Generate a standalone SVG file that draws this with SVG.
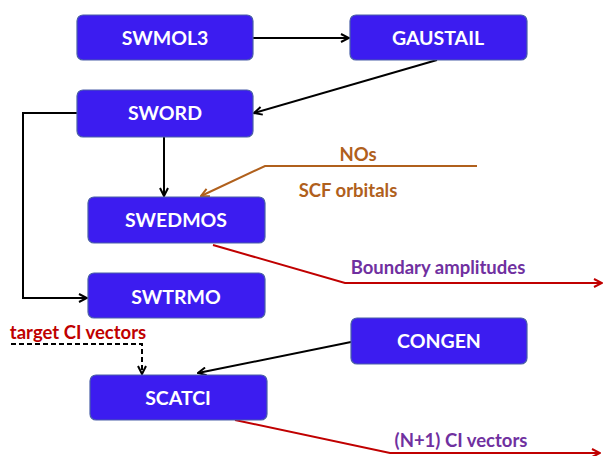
<svg xmlns="http://www.w3.org/2000/svg" width="603" height="456" viewBox="0 0 603 456">
<style>
.box{fill:#3c1cf0;stroke:#4a5fa8;stroke-width:1.2}
.nt{font-family:Lato,"Open Sans",sans-serif;font-weight:bold;font-size:19.5px;fill:#ffffff;text-anchor:middle}
.lb{font-family:Lato,"Open Sans",sans-serif;font-weight:bold;font-size:18.5px}
.k{fill:none;stroke:#000;stroke-width:2}
.br{fill:none;stroke:#b0601c;stroke-width:2}
.rd{fill:none;stroke:#c00000;stroke-width:2}
</style>
<defs>
<marker id="ak" viewBox="0 0 10 10" refX="9" refY="5" markerWidth="5" markerHeight="5" orient="auto" markerUnits="strokeWidth"><path d="M1,1 L9,5 L1,9" fill="none" stroke="#000" stroke-width="2"/></marker>
<marker id="ab" viewBox="0 0 10 10" refX="9" refY="5" markerWidth="5" markerHeight="5" orient="auto" markerUnits="strokeWidth"><path d="M1,1 L9,5 L1,9" fill="none" stroke="#b0601c" stroke-width="2"/></marker>
<marker id="ar" viewBox="0 0 10 10" refX="9" refY="5" markerWidth="5" markerHeight="5" orient="auto" markerUnits="strokeWidth"><path d="M1,1 L9,5 L1,9" fill="none" stroke="#c00000" stroke-width="2"/></marker>
</defs>
<rect width="603" height="456" fill="#ffffff"/>
<g id="connectors">
<line class="k" x1="253" y1="38" x2="349" y2="38" marker-end="url(#ak)"/>
<line class="k" x1="437" y1="60" x2="254" y2="113" marker-end="url(#ak)"/>
<line class="k" x1="164" y1="137" x2="164" y2="196" marker-end="url(#ak)"/>
<polyline class="k" points="77,113 23,113 23,298 87,298" marker-end="url(#ak)"/>
<polyline class="br" points="477,166 265,166 201,196" marker-end="url(#ab)"/>
<polyline class="rd" points="213,245 345,283 602,283" marker-end="url(#ar)"/>
<line class="k" x1="351" y1="342" x2="198" y2="373" marker-end="url(#ak)"/>
<polyline class="k" points="11,344 142,344 142,374" stroke-dasharray="5,3" marker-end="url(#ak)"/>
<polyline class="rd" points="235,420 390,453 600,453" marker-end="url(#ar)"/>
</g>
<g id="SWMOL3"><rect class="box" x="77" y="15" width="176" height="45" rx="6"/><text class="nt" x="165" y="45">SWMOL3</text></g>
<g id="GAUSTAIL"><rect class="box" x="350" y="15" width="177" height="45" rx="6"/><text class="nt" x="438" y="45">GAUSTAIL</text></g>
<g id="SWORD"><rect class="box" x="77" y="90" width="176" height="47" rx="6"/><text class="nt" x="165" y="120">SWORD</text></g>
<g id="SWEDMOS"><rect class="box" x="88" y="197" width="177" height="46" rx="6"/><text class="nt" x="176" y="227">SWEDMOS</text></g>
<g id="SWTRMO"><rect class="box" x="88" y="273" width="177" height="45" rx="6"/><text class="nt" x="176" y="304">SWTRMO</text></g>
<g id="CONGEN"><rect class="box" x="351" y="318" width="176" height="46" rx="6"/><text class="nt" x="439" y="348">CONGEN</text></g>
<g id="SCATCI"><rect class="box" x="90" y="375" width="177" height="45" rx="6"/><text class="nt" x="178" y="405">SCATCI</text></g>
<g id="labels">
<text class="lb" x="358" y="161" fill="#b0601c" text-anchor="middle">NOs</text>
<text class="lb" x="348" y="197" fill="#b0601c" text-anchor="middle">SCF orbitals</text>
<text class="lb" x="438" y="274" fill="#7030a0" text-anchor="middle">Boundary amplitudes</text>
<text class="lb" x="78" y="339" fill="#c00000" text-anchor="middle">target CI vectors</text>
<text class="lb" x="461" y="447" fill="#7030a0" text-anchor="middle">(N+1) CI vectors</text>
</g>
</svg>
